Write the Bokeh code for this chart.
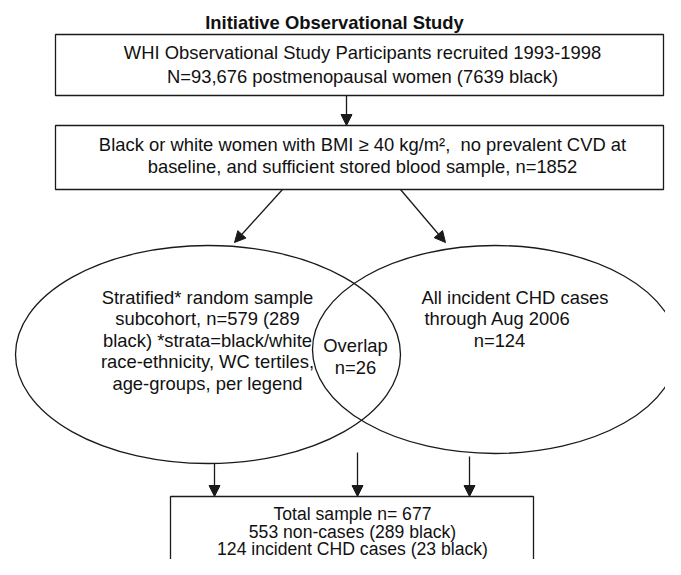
from bokeh.plotting import figure
from bokeh.models import Range1d, ColumnDataSource, Arrow, NormalHead
from bokeh.core.properties import value
from bokeh.embed import file_html
from bokeh.resources import INLINE

# ---- data (counts shown in the flow chart) ----
n_participants = "93,676"
n_black_participants = 7639
n_eligible = 1852
n_subcohort = 579
n_subcohort_black = 289
n_cases = 124
n_overlap = 26
n_total = 677
n_noncases = 553
n_noncases_black = 289
n_cases_black = 23

title_text = "Initiative Observational Study"
box1_lines = ["WHI Observational Study Participants recruited 1993-1998",
              f"N={n_participants} postmenopausal women ({n_black_participants} black)"]
box2_lines = ["Black or white women with BMI \u2265 40 kg/m\u00b2,\u00a0 no prevalent CVD at",
              f"baseline, and sufficient stored blood sample, n={n_eligible}"]
left_lines = ["Stratified* random sample",
              f"subcohort, n={n_subcohort} ({n_subcohort_black}",
              "black) *strata=black/white",
              "race-ethnicity, WC tertiles,",
              "age-groups, per legend"]
overlap_lines = ["Overlap", f"n={n_overlap}"]
right_lines = ["All incident CHD cases", "through Aug 2006", f"n={n_cases}"]
bottom_lines = [f"Total sample n= {n_total}",
                f"{n_noncases} non-cases ({n_noncases_black} black)",
                f"{n_cases} incident CHD cases ({n_cases_black} black)"]

# ---- layout (picture pixel coordinates) ----
W, H = 665, 559
p = figure(width=W, height=H, output_backend="svg", toolbar_location=None,
           x_range=Range1d(0, W), y_range=Range1d(H, 0),
           min_border=0, outline_line_color=None)
p.axis.visible = False
p.grid.visible = False

LC = "#1a1a1a"
LW = 1.3
FONT = value("Liberation Sans")
FS = "18.4px"

# boxes
p.quad(left=[55, 55, 170], right=[663, 663, 533], top=[34, 125, 496], bottom=[95, 189, 600],
       fill_color=None, line_color=LC, line_width=LW)

# ellipses
p.ellipse(x=[207.5, 494.5], y=[354, 349], width=[385, 365], height=[218, 208],
          fill_color=None, line_color=LC, line_width=LW)

# arrows
arr = ColumnDataSource(dict(
    x0=[346, 282, 400, 214, 357, 469],
    y0=[95, 189, 189, 463, 452, 456],
    x1=[346, 234, 445, 214, 357, 469],
    y1=[125, 242, 242, 496, 496, 496]))
p.add_layout(Arrow(source=arr, x_start="x0", y_start="y0", x_end="x1", y_end="y1",
                   line_color=LC, line_width=LW,
                   end=NormalHead(size=11, fill_color=LC, line_color=LC, line_width=1)))

def put(lines, xs, ys, align="center", bold=False, size=FS):
    p.text(x=xs, y=ys, text=lines, text_align=align, text_baseline="middle",
           text_font=FONT, text_font_size=size, text_color="#111111",
           text_font_style="bold" if bold else "normal")

put([title_text], [334], [22], bold=True)
put(box1_lines, [362, 362], [52, 76])
put(box2_lines, [362, 362], [144, 166])
put(left_lines, [207] * 5, [297, 318, 340, 361, 383])
put(overlap_lines, [355, 355], [345, 367])
put(right_lines[:2], [421, 424], [297, 318], align="left")
put(right_lines[2:], [499], [340])
put(bottom_lines, [352, 352, 352], [513, 531, 548], size="17.6px")

open("out.html", "w").write(file_html(p, INLINE))
